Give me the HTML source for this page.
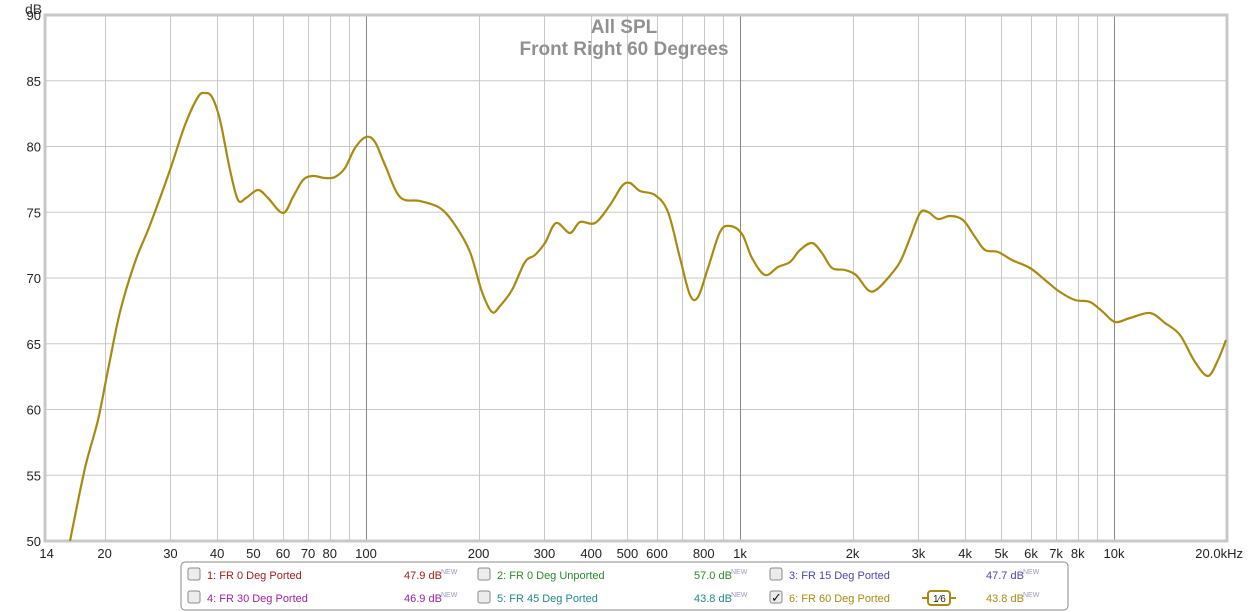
<!DOCTYPE html>
<html><head><meta charset="utf-8"><style>
html,body{margin:0;padding:0;background:#fff;width:1249px;height:612px;overflow:hidden}
svg{display:block;font-family:"Liberation Sans",Arial,sans-serif}
</style></head><body>
<svg id="s" width="1249" height="612" xmlns="http://www.w3.org/2000/svg">
<g id="grid"></g>
<rect x="45" y="15" width="1182" height="526" fill="none" stroke="#c8c8c8" stroke-width="3"/>
<text x="624" y="33" text-anchor="middle" font-size="19" font-weight="bold" fill="#909090">All SPL</text>
<text x="624" y="55" text-anchor="middle" font-size="19" font-weight="bold" fill="#909090">Front Right 60 Degrees</text>
<text x="25" y="14" font-size="14" fill="#333">dB</text>
<path id="curve" fill="none" stroke="#a88a10" stroke-width="2.2" stroke-linejoin="round"/>
<g id="lbl" font-size="13" fill="#222"></g>
<rect x="181" y="562" width="887" height="48" rx="4" fill="#fff" stroke="#888" stroke-width="1"/>
<g font-size="11">
<rect x="188" y="568" width="12" height="12" rx="2" fill="#ececec" stroke="#888"/>
<text x="207" y="579" fill="#a02020">1: FR 0 Deg Ported</text>
<text x="404" y="579" fill="#a02020">47.9 dB</text><text x="441" y="574" font-size="7" fill="#99b">NEW</text>
<rect x="478" y="568" width="12" height="12" rx="2" fill="#ececec" stroke="#888"/>
<text x="497" y="579" fill="#2a8a2a">2: FR 0 Deg Unported</text>
<text x="694" y="579" fill="#2a8a2a">57.0 dB</text><text x="731" y="574" font-size="7" fill="#99b">NEW</text>
<rect x="770" y="568" width="12" height="12" rx="2" fill="#ececec" stroke="#888"/>
<text x="789" y="579" fill="#4848a8">3: FR 15 Deg Ported</text>
<text x="986" y="579" fill="#4848a8">47.7 dB</text><text x="1023" y="574" font-size="7" fill="#99b">NEW</text>
<rect x="188" y="591" width="12" height="12" rx="2" fill="#ececec" stroke="#888"/>
<text x="207" y="602" fill="#a020a0">4: FR 30 Deg Ported</text>
<text x="404" y="602" fill="#a020a0">46.9 dB</text><text x="441" y="597" font-size="7" fill="#99b">NEW</text>
<rect x="478" y="591" width="12" height="12" rx="2" fill="#ececec" stroke="#888"/>
<text x="497" y="602" fill="#208888">5: FR 45 Deg Ported</text>
<text x="694" y="602" fill="#208888">43.8 dB</text><text x="731" y="597" font-size="7" fill="#99b">NEW</text>
<rect x="770" y="591" width="12" height="12" rx="2" fill="#ececec" stroke="#888"/>
<text x="771" y="602" font-size="13" fill="#111">✓</text>
<text x="789" y="602" fill="#a88a10">6: FR 60 Deg Ported</text>
<line x1="922" y1="598" x2="956" y2="598" stroke="#a88a10" stroke-width="2"/>
<rect x="928" y="591" width="22" height="14" rx="3" fill="#fff" stroke="#a88a10" stroke-width="2"/>
<text x="933" y="602" font-size="10" fill="#222">1⁄6</text>
<text x="986" y="602" fill="#a88a10">43.8 dB</text><text x="1023" y="597" font-size="7" fill="#99b">NEW</text>
</g>
</svg>
<script>
var NS="http://www.w3.org/2000/svg";
function X(f){return 366+374*Math.log10(f/100);}
function Y(d){return 541-(d-50)*13.15;}
var g=document.getElementById('grid'),l=document.getElementById('lbl');
function ln(x1,y1,x2,y2,c){var e=document.createElementNS(NS,'line');e.setAttribute('x1',x1);e.setAttribute('y1',y1);e.setAttribute('x2',x2);e.setAttribute('y2',y2);e.setAttribute('stroke',c);e.setAttribute('stroke-width',1);g.appendChild(e);}
function tx(x,y,s,a){var e=document.createElementNS(NS,'text');e.setAttribute('x',x);e.setAttribute('y',y);e.setAttribute('text-anchor',a);e.textContent=s;l.appendChild(e);}
for(var d=55;d<90;d+=5){ln(45,Y(d),1227,Y(d),'#c8c8c8');}
for(var d=50;d<=90;d+=5){tx(41,Y(d)+5,d,'end');}
[20,30,40,50,60,70,80,90,200,300,400,500,600,700,800,900,2000,3000,4000,5000,6000,7000,8000,9000].forEach(function(f){var x=Math.round(X(f))+.5;ln(x,15,x,541,'#c8c8c8');});
[100,1000,10000].forEach(function(f){var x=Math.round(X(f))+.5;ln(x,15,x,541,'#888');});
var labs=[[14,'14'],[20,'20'],[30,'30'],[40,'40'],[50,'50'],[60,'60'],[70,'70'],[80,'80'],[100,'100'],[200,'200'],[300,'300'],[400,'400'],[500,'500'],[600,'600'],[800,'800'],[1000,'1k'],[2000,'2k'],[3000,'3k'],[4000,'4k'],[5000,'5k'],[6000,'6k'],[7000,'7k'],[8000,'8k'],[10000,'10k']];
labs.forEach(function(a){tx(X(a[0]),558,a[1],'middle');});
tx(1243,558,'20.0kHz','end');
var p=[[70,541],[85,468],[98,420],[108,370],[120,312],[135,262],[150,225],[170,170],[185,125],[198,97],[205,93],[212,97],[220,120],[230,170],[238,200],[246,198],[258,190],[268,198],[283,213],[293,197],[303,180],[313,176],[325,178],[335,177],[345,168],[355,148],[366,137],[375,142],[385,165],[400,197],[420,201],[440,208],[455,225],[470,252],[482,292],[492,312],[500,306],[512,290],[525,262],[535,255],[545,243],[556,223],[570,233],[580,222],[595,223],[610,205],[622,186],[630,183],[640,191],[655,195],[668,212],[680,258],[690,295],[698,297],[708,268],[720,232],[730,226],[742,234],[752,258],[765,275],[778,267],[790,262],[800,250],[812,243],[822,253],[832,268],[845,270],[856,275],[868,290],[876,290],[888,278],[900,262],[910,238],[920,213],[928,212],[938,219],[950,216],[963,220],[975,237],[985,250],[998,252],[1012,260],[1030,268],[1045,280],[1060,292],[1075,300],[1090,302],[1103,312],[1115,322],[1130,318],[1150,313],[1165,323],[1180,335],[1195,362],[1208,376],[1218,360],[1226,340]];
var d='M'+p[0][0]+','+p[0][1];
for(var i=0;i<p.length-1;i++){var a=p[i-1]||p[i],b=p[i],c=p[i+1],e=p[i+2]||c;
d+=' C'+(b[0]+(c[0]-a[0])/6).toFixed(1)+','+(b[1]+(c[1]-a[1])/6).toFixed(1)+' '+(c[0]-(e[0]-b[0])/6).toFixed(1)+','+(c[1]-(e[1]-b[1])/6).toFixed(1)+' '+c[0]+','+c[1];}
document.getElementById('curve').setAttribute('d',d);
</script>
</body></html>
